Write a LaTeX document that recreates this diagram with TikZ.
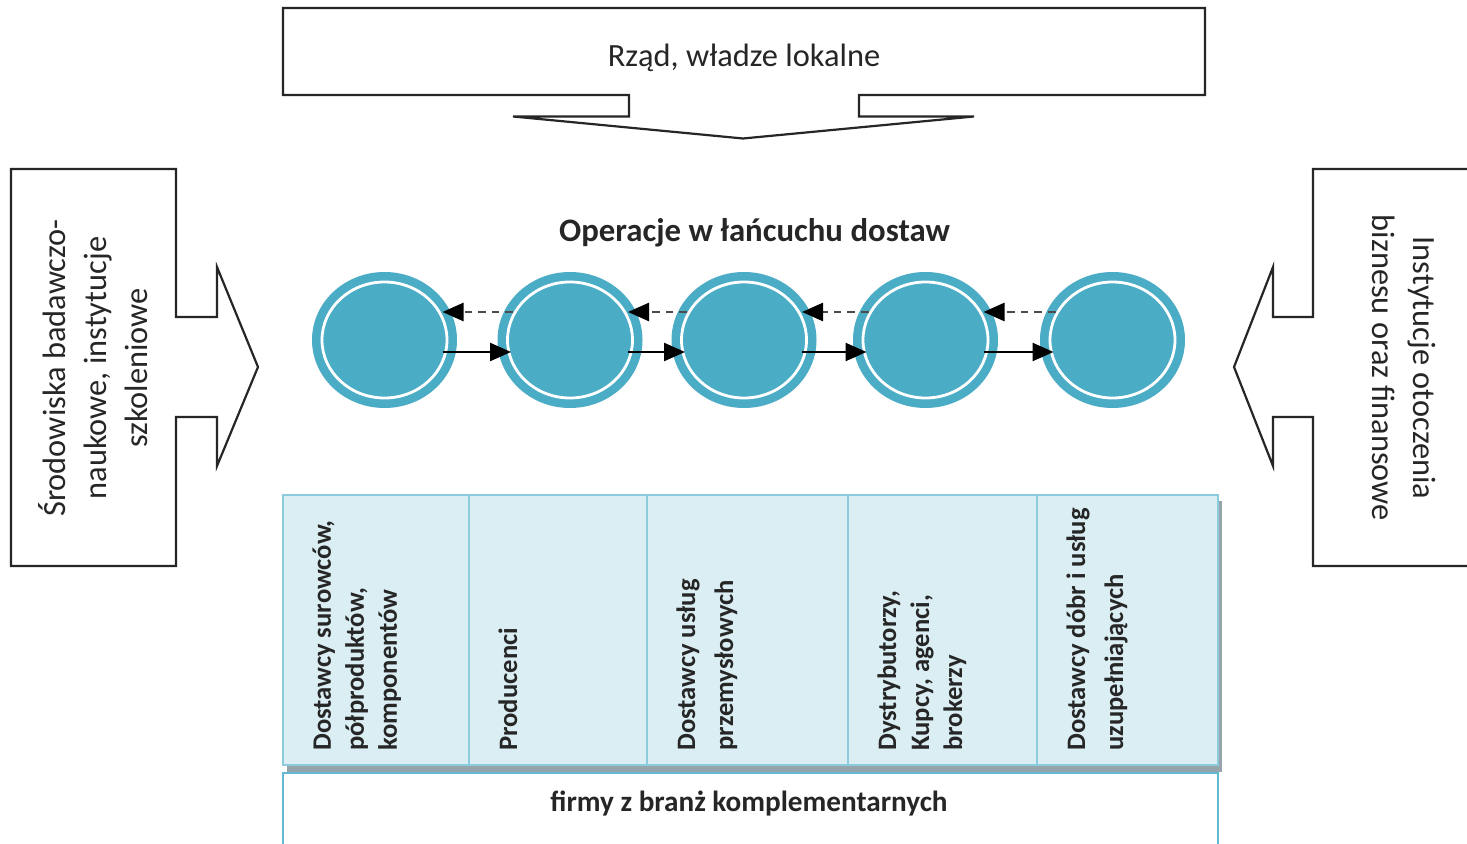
\documentclass[tikz,border=0pt]{standalone}
\usepackage{fontspec}
\setmainfont{Carlito}
\usetikzlibrary{calc,arrows.meta,shapes.geometric}
\definecolor{teal1}{RGB}{75,172,198}
\definecolor{colfill}{RGB}{218,238,243}
\definecolor{colline}{RGB}{140,203,220}
\definecolor{boxline}{RGB}{100,185,210}
\definecolor{shadowc}{RGB}{150,165,172}
\definecolor{txt}{RGB}{38,38,38}
\tikzset{
  callout/.style={draw=black!85, line width=1.1pt, line join=miter},
  chainnode/.style={ellipse, fill=teal1, draw=none, minimum width=72.5pt, minimum height=68pt, inner sep=0pt},
  ringline/.style={draw=white, line width=1.4pt},
  fwd/.style={draw=black, line width=1.2pt, -{Triangle[length=10.5pt,width=9pt]}},
  back/.style={draw=black!70, line width=1.3pt, dash pattern=on 3.8pt off 3pt, -{Triangle[length=10.5pt,width=9pt,color=black]}},
  colbox/.style={fill=colfill, draw=colline, line width=1pt},
  collabel/.style={rotate=90, anchor=north west, inner sep=0pt, align=left, text=txt, font=\fontsize{13.3}{16.5}\selectfont\bfseries},
  sidelabel/.style={inner sep=0pt, align=center, text=txt, font=\fontsize{16.2}{20.5}\selectfont},
}
\begin{document}
\begin{tikzpicture}[x=0.5pt,y=-0.5pt]
\useasboundingbox (0,0) rectangle (1467,844);
\fill[white] (0,0) rectangle (1467,844);

% top callout
\draw[callout] (283,8) -- (1205,8) -- (1205,95) -- (859,95) -- (859,116.5) -- (974,116.5) -- (743,138.5) -- (513,116.5) -- (629,116.5) -- (629,95) -- (283,95) -- cycle;
\node[sidelabel, anchor=base] (gov) at (744,67) {Rząd, władze lokalne};

% left callout
\draw[callout] (11,169) -- (176,169) -- (176,317) -- (217,317) -- (217,267) -- (258,367) -- (217,466) -- (217,417) -- (176,417) -- (176,566) -- (11,566) -- cycle;
\node[sidelabel, rotate=90] (left) at (93.5,368) {Środowiska badawczo-\\naukowe, instytucje\\szkoleniowe};

% right callout
\draw[callout] (1500,169) -- (1313,169) -- (1313,317) -- (1273,317) -- (1273,267) -- (1234,367) -- (1273,466) -- (1273,417) -- (1313,417) -- (1313,566) -- (1500,566);
\node[sidelabel, rotate=-90] (right) at (1404,368) {Instytucje otoczenia\\biznesu oraz finansowe};

% title
\node[anchor=base, inner sep=0pt, text=txt, font=\fontsize{16.4}{20}\selectfont\bfseries] (title) at (754.5,242) {Operacje w łańcuchu dostaw};

% chain circles
\node[chainnode] (c1) at (384.5,340) {};
\node[chainnode] (c2) at (570,340) {};
\node[chainnode] (c3) at (744,340) {};
\node[chainnode] (c4) at (925.5,340) {};
\node[chainnode] (c5) at (1112.5,340) {};
\foreach \c in {c1,c2,c3,c4,c5}{
  \draw[ringline] (\c.center) ellipse [x radius=31.25pt, y radius=29pt];
}
% forward and backward arrows
\foreach \a/\b in {c1/c2,c2/c3,c3/c4,c4/c5}{
  \draw[fwd] ($(\a.center)+(58,12)$) -- ($(\b.center)+(-59,12)$);
  \draw[back] ($(\b.center)+(-57,-28)$) -- ($(\a.center)+(58,-28)$);
}

% columns with shadows
\foreach \l/\r in {283/469,469/647,647/848,848/1037,1037/1218}{
  \fill[shadowc] (\l+4,501) rectangle (\r+4,772);
}
\foreach \l/\r in {283/469,469/647,647/848,848/1037,1037/1218}{
  \draw[colbox] (\l,495) rectangle (\r,765);
}
\node[collabel] (k1) at (312,751) {Dostawcy surowców,\\półproduktów,\\komponentów};
\node[collabel] (k2) at (498,751) {Producenci};
\node[collabel, font=\fontsize{13.3}{19}\selectfont\bfseries] (k3) at (676,751) {Dostawcy usług\\przemysłowych};
\node[collabel] (k4) at (877,751) {Dystrybutorzy,\\Kupcy, agenci,\\brokerzy};
\node[collabel, font=\fontsize{13.3}{19}\selectfont\bfseries] (k5) at (1066,751) {Dostawcy dóbr i usług\\uzupełniających};

% bottom box
\draw[draw=boxline, fill=white, line width=1pt] (283,773) rectangle (1218,870);
\node[anchor=base, inner sep=0pt, text=txt, font=\fontsize{14.6}{18}\selectfont\bfseries] (compl) at (749,811) {firmy z branż komplementarnych};
\end{tikzpicture}
\end{document}
